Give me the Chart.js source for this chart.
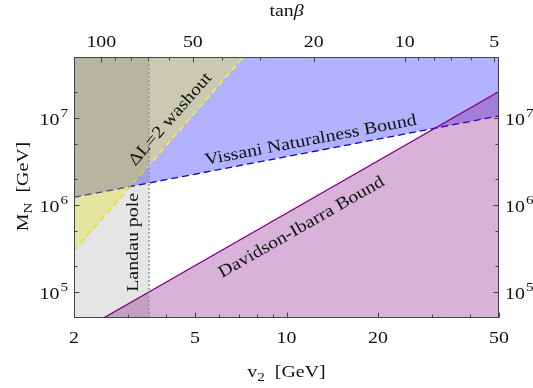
<!DOCTYPE html>
<html><head><meta charset="utf-8">
<script src="https://cdn.jsdelivr.net/npm/chart.js@4/dist/chart.umd.min.js"></script>
<style>html,body{margin:0;padding:0;background:#fff}#wrap{width:533px;height:388px}</style>
</head><body><div id="wrap"><canvas id="c" width="533" height="388"></canvas></div>
<script>
// ---- axis ranges ----
const v2Range = [2, 50];
const mnRange = [5e4, 5e7];
// bottom axis ticks (v2 in GeV)
const v2MajorTicks = [2, 5, 10, 20, 50];
const v2MinorTicks = [3, 4, 6, 7, 8, 9, 30, 40];
// top axis ticks (tan beta)
const tanBetaMajorTicks = [100, 50, 20, 10, 5];
const tanBetaMinorTicks = [90, 80, 70, 60, 40, 30, 9, 8, 7, 6];
const vevGeV = 246;
// left / right axis ticks (M_N in GeV)
const mnMajorTicks = [1e5, 1e6, 1e7];
const mnExponents = [5, 6, 7];
const mnMinorTicks = [2e5, 5e5, 2e6, 5e6, 2e7];
// ---- boundaries ----
const landauV2 = [2, 3.53];
const landauM = [5e7, 5e7];
const landauLineV2 = [3.53, 3.53];
const landauLineM = [5e4, 5e7];
const vissaniV2 = [2, 50];
const vissaniM = [1.22e6, 1.05e7];
const washoutV2 = [2, 7.22];
const washoutM = [2.95e5, 5e7];
const davidsonV2 = [2.5, 50];
const davidsonM = [5e4, 2.0e7];
// ---- region labels ----
const regionLabels = ['ΔL=2 washout', 'Vissani Naturalness Bound', 'Davidson-Ibarra Bound', 'Landau pole'];
const labelV2 = [4.15, 12.0, 11.2, 3.13];
const labelM = [9.6e6, 5.5e6, 5.5e5, 3.7e5];

const FONT = '"Liberation Serif", "Times New Roman", serif';
const FS = 17;
const SX = 1.17; // horizontal stretch of glyphs
const SUPFS = 13;
const pts = (xs, ys) => xs.map((x, i) => ({x: x, y: ys[i]}));
const tanBetaToV2 = t => vevGeV / Math.sqrt(1 + t * t);

function lineAngle(chart, xs, ys) {
  const sx = chart.scales.x, sy = chart.scales.y;
  const n = xs.length - 1;
  return Math.atan2(sy.getPixelForValue(ys[n]) - sy.getPixelForValue(ys[0]),
                    sx.getPixelForValue(xs[n]) - sx.getPixelForValue(xs[0]));
}
function fontStr(size, italic) { return (italic ? 'italic ' : '') + size + 'px ' + FONT; }
function measure(ctx, s, size, italic) { ctx.font = fontStr(size, italic); return ctx.measureText(s).width * SX; }
// draw text with left edge at (x,y) (alphabetic baseline), stretched horizontally
function put(ctx, s, x, y, size, italic) {
  ctx.save(); ctx.translate(x, y); ctx.scale(SX, 1);
  ctx.font = fontStr(size, italic); ctx.textAlign = 'left'; ctx.textBaseline = 'alphabetic';
  ctx.fillText(s, 0, 0); ctx.restore();
}

const decor = {
  id: 'decor',
  afterDraw(chart) {
    const ctx = chart.ctx, a = chart.chartArea;
    const sx = chart.scales.x, sx2 = chart.scales.x2, sy = chart.scales.y, sy2 = chart.scales.y2;
    const L = Math.round(a.left) + 0.5, R = Math.round(a.right) - 0.5;
    const T = Math.round(a.top) + 0.5, B = Math.round(a.bottom) - 0.5;
    ctx.save();
    ctx.fillStyle = '#111';
    // region labels
    const angles = [lineAngle(chart, washoutV2, washoutM), lineAngle(chart, vissaniV2, vissaniM),
                    lineAngle(chart, davidsonV2, davidsonM), -Math.PI / 2];
    regionLabels.forEach((txt, i) => {
      ctx.save();
      ctx.translate(sx.getPixelForValue(labelV2[i]), sy.getPixelForValue(labelM[i]));
      ctx.rotate(angles[i]);
      ctx.scale(SX, 1);
      ctx.font = fontStr(FS); ctx.textAlign = 'center'; ctx.textBaseline = 'middle';
      ctx.fillText(txt, 0, 0);
      ctx.restore();
    });
    // frame
    ctx.strokeStyle = '#444'; ctx.lineWidth = 1;
    ctx.strokeRect(L, T, R - L, B - T);
    // ticks (inward)
    const vt = (p, y0, len) => { ctx.beginPath(); ctx.moveTo(Math.round(p) + 0.5, y0); ctx.lineTo(Math.round(p) + 0.5, y0 + len); ctx.stroke(); };
    const ht = (p, x0, len) => { ctx.beginPath(); ctx.moveTo(x0, Math.round(p) + 0.5); ctx.lineTo(x0 + len, Math.round(p) + 0.5); ctx.stroke(); };
    v2MajorTicks.forEach(v => vt(sx.getPixelForValue(v), B, -5));
    v2MinorTicks.forEach(v => vt(sx.getPixelForValue(v), B, -3));
    tanBetaMajorTicks.forEach(t => vt(sx2.getPixelForValue(tanBetaToV2(t)), T, 5));
    tanBetaMinorTicks.forEach(t => vt(sx2.getPixelForValue(tanBetaToV2(t)), T, 3));
    mnMajorTicks.forEach(m => { ht(sy.getPixelForValue(m), L, 5); ht(sy2.getPixelForValue(m), R, -5); });
    mnMinorTicks.forEach(m => { ht(sy.getPixelForValue(m), L, 3); ht(sy2.getPixelForValue(m), R, -3); });
    // x tick labels
    v2MajorTicks.forEach(v => {
      const s = String(v), w = measure(ctx, s, FS);
      put(ctx, s, sx.getPixelForValue(v) - w / 2, a.bottom + 25, FS);
    });
    tanBetaMajorTicks.forEach(t => {
      const s = String(t), w = measure(ctx, s, FS);
      put(ctx, s, sx2.getPixelForValue(tanBetaToV2(t)) - w / 2, a.top - 10, FS);
    });
    // y tick labels 10^n
    mnMajorTicks.forEach((m, i) => {
      const e = String(mnExponents[i]);
      const w1 = measure(ctx, '10', FS), w2 = measure(ctx, e, SUPFS);
      const py = sy.getPixelForValue(m);
      let x0 = a.left - 6 - w1 - w2 - 1;
      put(ctx, '10', x0, py + 7, FS); put(ctx, e, x0 + w1 + 1, py - 1, SUPFS);
      x0 = a.right + 6;
      put(ctx, '10', x0, py + 7, FS); put(ctx, e, x0 + w1 + 1, py - 1, SUPFS);
    });
    // top title tan beta
    const wt = measure(ctx, 'tan', FS), wb = measure(ctx, 'β', FS, true);
    const cx = (a.left + a.right) / 2 - (wt + wb) / 2;
    put(ctx, 'tan', cx, 16, FS); put(ctx, 'β', cx + wt, 16, FS, true);
    // titles with subscripts
    const drawSubTitle = (main, sub, rest) => {
      const w1 = measure(ctx, main, FS), w2 = measure(ctx, sub, SUPFS), w3 = measure(ctx, rest, FS);
      const x0 = -(w1 + w2 + w3) / 2;
      put(ctx, main, x0, 0, FS); put(ctx, sub, x0 + w1, 4, SUPFS); put(ctx, rest, x0 + w1 + w2, 0, FS);
    };
    ctx.save(); ctx.translate((a.left + a.right) / 2, 377);
    drawSubTitle('v', '2', '  [GeV]'); ctx.restore();
    ctx.save(); ctx.translate(28, (a.top + a.bottom) / 2 - 1); ctx.rotate(-Math.PI / 2);
    drawSubTitle('M', 'N', '  [GeV]'); ctx.restore();
    ctx.restore();
  }
};

const fixedSize = (prop, val) => (s) => { s[prop] = val; };
const axisBase = (type, pos, range, afterFit) => ({
  type: type, position: pos, min: range[0], max: range[1],
  grid: {display: false}, border: {display: false}, ticks: {display: false},
  afterFit: afterFit
});

new Chart(document.getElementById('c'), {
  type: 'line',
  data: {
    datasets: [
      {label: 'Vissani Naturalness Bound', data: pts(vissaniV2, vissaniM), order: 5,
       fill: 'end', backgroundColor: 'rgba(0,0,255,0.3)', borderColor: '#0000ff',
       borderWidth: 1.3, borderDash: [7, 4]},
      {label: 'ΔL=2 washout', data: pts(washoutV2, washoutM), order: 4,
       fill: 'end', backgroundColor: 'rgba(255,255,0,0.3)', borderColor: '#ffff00',
       borderWidth: 1.3, borderDash: [6, 4]},
      {label: 'Davidson-Ibarra Bound', data: pts(davidsonV2, davidsonM), order: 3,
       fill: 'start', backgroundColor: 'rgba(128,0,128,0.3)', borderColor: '#800080',
       borderWidth: 1.3},
      {label: 'Landau pole region', data: pts(landauV2, landauM), order: 2,
       fill: 'start', backgroundColor: 'rgba(0,0,0,0.1)', borderWidth: 0, borderColor: 'rgba(0,0,0,0)'},
      {label: 'Landau pole', data: pts(landauLineV2, landauLineM), order: 1,
       fill: false, borderColor: '#999999', borderWidth: 1.6, borderDash: [2, 2]}
    ]
  },
  options: {
    responsive: false, animation: false, events: [],
    layout: {padding: 0},
    datasets: {line: {pointRadius: 0, tension: 0, clip: 0}},
    plugins: {legend: {display: false}, tooltip: {enabled: false}},
    scales: {
      x: axisBase('logarithmic', 'bottom', v2Range, fixedSize('height', 70)),
      x2: axisBase('logarithmic', 'top', v2Range, fixedSize('height', 57)),
      y: axisBase('logarithmic', 'left', mnRange, fixedSize('width', 74)),
      y2: axisBase('logarithmic', 'right', mnRange, fixedSize('width', 34))
    }
  },
  plugins: [decor]
});
</script></body></html>
